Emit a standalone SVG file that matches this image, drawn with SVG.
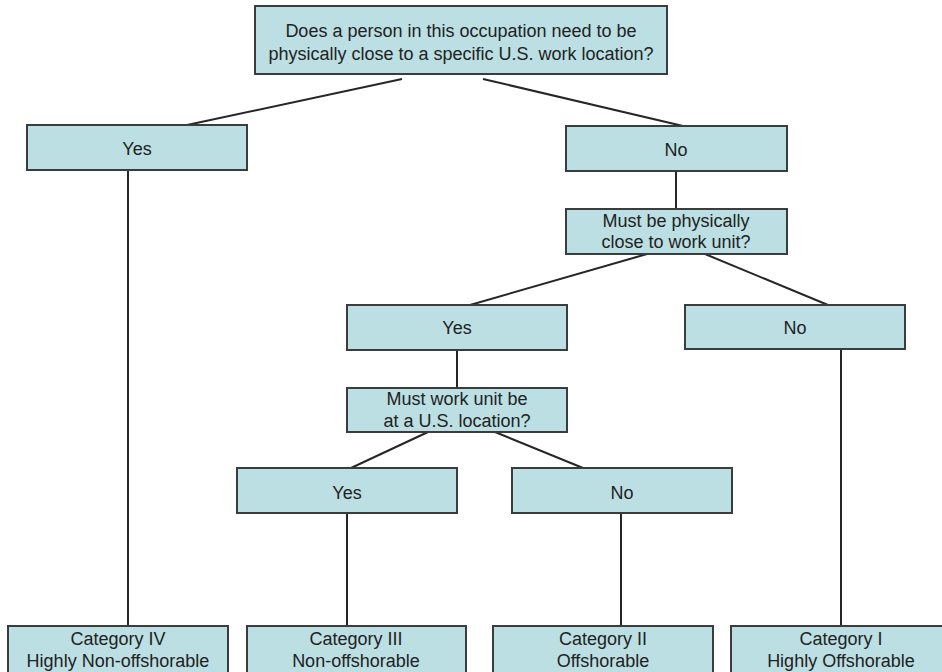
<svg xmlns="http://www.w3.org/2000/svg" width="942" height="672" viewBox="0 0 942 672">
<style>
.box{fill:#bcdfe3;stroke:#3a3d3e;stroke-width:2}
.t{font-family:"Liberation Sans",Arial,sans-serif;font-size:18px;fill:#222;text-anchor:middle}
.c{stroke:#262626;stroke-width:2;fill:none}
</style>
<rect width="942" height="672" fill="#ffffff"/>
<g id="connectors">
<line class="c" x1="402" y1="79" x2="187" y2="125"/>
<line class="c" x1="483" y1="79" x2="683" y2="126"/>
<line class="c" x1="128" y1="170" x2="128" y2="626"/>
<line class="c" x1="676" y1="171" x2="676" y2="209"/>
<line class="c" x1="647" y1="254" x2="470" y2="305"/>
<line class="c" x1="705" y1="254" x2="828" y2="305"/>
<line class="c" x1="457" y1="350" x2="457" y2="388"/>
<line class="c" x1="841" y1="349" x2="841" y2="626"/>
<line class="c" x1="428" y1="432" x2="351" y2="468"/>
<line class="c" x1="495" y1="432" x2="583" y2="468"/>
<line class="c" x1="347" y1="513" x2="347" y2="626"/>
<line class="c" x1="621" y1="513" x2="621" y2="626"/>
</g>
<g id="n-root">
<rect class="box" x="255" y="6" width="412" height="68"/>
<text class="t" x="461" y="37">Does a person in this occupation need to be</text>
<text class="t" x="461" y="60">physically close to a specific U.S. work location?</text>
</g>
<g id="n-yes1">
<rect class="box" x="27" y="125" width="220" height="45"/>
<text class="t" x="137" y="155">Yes</text>
</g>
<g id="n-no1">
<rect class="box" x="566" y="126" width="221" height="45"/>
<text class="t" x="676" y="156">No</text>
</g>
<g id="n-q2">
<rect class="box" x="566" y="209" width="221" height="45"/>
<text class="t" x="676" y="227">Must be physically</text>
<text class="t" x="676" y="248">close to work unit?</text>
</g>
<g id="n-yes2">
<rect class="box" x="347" y="305" width="220" height="45"/>
<text class="t" x="457" y="334">Yes</text>
</g>
<g id="n-no2">
<rect class="box" x="685" y="305" width="220" height="44"/>
<text class="t" x="795" y="334">No</text>
</g>
<g id="n-q3">
<rect class="box" x="347" y="388" width="220" height="44"/>
<text class="t" x="457" y="405">Must work unit be</text>
<text class="t" x="457" y="427">at a U.S. location?</text>
</g>
<g id="n-yes3">
<rect class="box" x="237" y="468" width="220" height="45"/>
<text class="t" x="347" y="499">Yes</text>
</g>
<g id="n-no3">
<rect class="box" x="512" y="468" width="220" height="45"/>
<text class="t" x="622" y="499">No</text>
</g>
<g id="n-cat4">
<rect class="box" x="8" y="626" width="220" height="56"/>
<text class="t" x="118" y="645">Category IV</text>
<text class="t" x="118" y="667">Highly Non-offshorable</text>
</g>
<g id="n-cat3">
<rect class="box" x="247" y="626" width="219" height="56"/>
<text class="t" x="356" y="645">Category III</text>
<text class="t" x="356" y="667">Non-offshorable</text>
</g>
<g id="n-cat2">
<rect class="box" x="493" y="626" width="220" height="56"/>
<text class="t" x="603" y="645">Category II</text>
<text class="t" x="603" y="667">Offshorable</text>
</g>
<g id="n-cat1">
<rect class="box" x="731" y="626" width="220" height="56"/>
<text class="t" x="841" y="645">Category I</text>
<text class="t" x="841" y="667">Highly Offshorable</text>
</g>
</svg>
